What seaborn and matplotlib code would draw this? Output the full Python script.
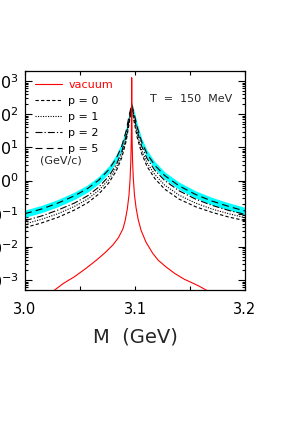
import numpy as np
import pandas as pd
import matplotlib
matplotlib.use("Agg")
import matplotlib.pyplot as plt
import seaborn as sns
from matplotlib.ticker import LogLocator, NullFormatter, FixedLocator

# dilepton mass grid for the in-medium curves (GeV)
mass = [3.000, 3.015, 3.030, 3.045, 3.057, 3.067, 3.076, 3.083, 3.088, 3.092, 3.0945, 3.097,
        3.0995, 3.102, 3.106, 3.111, 3.118, 3.127, 3.140, 3.155, 3.170, 3.185, 3.200]

# log10 of the spectral function
p0_log = [-1.42, -1.28, -1.11, -0.89, -0.67, -0.41, -0.08, 0.29, 0.69, 1.19, 1.68, 2.20,
          1.72, 1.30, 0.82, 0.42, 0.06, -0.26, -0.56, -0.79, -0.96, -1.10, -1.21]
p1_log = [-1.31, -1.17, -1.00, -0.78, -0.56, -0.30, 0.02, 0.39, 0.78, 1.27, 1.75, 2.23,
          1.80, 1.39, 0.92, 0.53, 0.18, -0.14, -0.44, -0.68, -0.86, -1.00, -1.12]
p2_log = [-1.21, -1.07, -0.89, -0.68, -0.46, -0.20, 0.12, 0.48, 0.87, 1.35, 1.81, 2.25,
          1.88, 1.50, 1.04, 0.66, 0.31, 0.00, -0.31, -0.56, -0.75, -0.90, -1.02]
p5_log = [-1.00, -0.86, -0.68, -0.46, -0.24, 0.01, 0.32, 0.67, 1.04, 1.50, 1.93, 2.30,
          1.97, 1.61, 1.17, 0.80, 0.46, 0.15, -0.16, -0.42, -0.62, -0.78, -0.92]
band_hi_log = [-0.89, -0.75, -0.57, -0.35, -0.13, 0.12, 0.43, 0.78, 1.15, 1.61, 2.02, 2.37,
               2.06, 1.72, 1.28, 0.91, 0.57, 0.26, -0.05, -0.31, -0.51, -0.67, -0.81]
band_lo_log = [-1.11, -0.97, -0.79, -0.57, -0.35, -0.10, 0.21, 0.56, 0.93, 1.39, 1.85, 2.23,
               1.89, 1.50, 1.06, 0.69, 0.35, 0.04, -0.27, -0.53, -0.73, -0.89, -1.03]

# vacuum curve, denser around the narrow peak
vac_mass = [3.020, 3.027, 3.035, 3.045, 3.055, 3.065, 3.073, 3.080, 3.085, 3.089, 3.091,
            3.093, 3.0945, 3.0955, 3.0962, 3.0966, 3.0968, 3.0969, 3.0970, 3.0971, 3.0972,
            3.0974, 3.0978, 3.0985, 3.0995, 3.101, 3.103, 3.1055, 3.110, 3.116, 3.121,
            3.128, 3.136, 3.145, 3.151, 3.158, 3.1645, 3.172]
vac_log = [-3.55, -3.30, -3.10, -2.90, -2.66, -2.40, -2.17, -1.94, -1.72, -1.46, -1.22,
           -0.86, -0.45, 0.02, 0.58, 1.18, 1.77, 2.31, 3.10, 2.31, 1.77,
           1.18, 0.58, 0.04, -0.43, -0.83, -1.19, -1.50, -1.86, -2.19, -2.40,
           -2.60, -2.80, -2.98, -3.07, -3.18, -3.30, -3.42]

x_ticks = [3.0, 3.1, 3.2]
x_tick_labels = ["3.0", "3.1", "3.2"]

df = pd.DataFrame({"M": mass,
                   "p = 0": np.power(10.0, p0_log),
                   "p = 1": np.power(10.0, p1_log),
                   "p = 2": np.power(10.0, p2_log),
                   "p = 5": np.power(10.0, p5_log),
                   "lo": np.power(10.0, band_lo_log),
                   "hi": np.power(10.0, band_hi_log)})
vac = pd.DataFrame({"M": vac_mass, "vacuum": np.power(10.0, vac_log)})

sns.set_style("ticks")
plt.rcParams["font.family"] = ["DejaVu Sans"]
plt.rcParams["lines.scale_dashes"] = False

fig = plt.figure(figsize=(2.82, 4.40), dpi=100)
ax = fig.add_axes([25 / 282, 150 / 440, 220 / 282, 219 / 440])
ax.set_yscale("log")

# cyan band around the p = 5 curve
ax.fill_between(df["M"], df["lo"], df["hi"], color="#00ffff", lw=0, zorder=1)

sns.lineplot(data=vac, x="M", y="vacuum", ax=ax, color="red", lw=0.8,
             errorbar=None, label="vacuum", zorder=3)
styles = {"p = 0": (0, (2.4, 1.6)),
          "p = 1": (0, (0.8, 1.0)),
          "p = 2": (0, (5.0, 1.5, 0.9, 1.5)),
          "p = 5": (0, (5.0, 3.0))}
for name, ls in styles.items():
    sns.lineplot(data=df, x="M", y=name, ax=ax, color="black", lw=0.8,
                 linestyle=ls, errorbar=None, label=name, zorder=2)

ax.set_xlim(3.0, 3.2)
ax.set_ylim(5e-4, 2e3)
ax.xaxis.set_major_locator(FixedLocator(x_ticks))
ax.set_xticklabels(x_tick_labels)
ax.xaxis.set_minor_locator(FixedLocator([3.05, 3.15]))
ax.yaxis.set_major_locator(LogLocator(base=10, numticks=20))
ax.yaxis.set_minor_locator(LogLocator(base=10, subs=np.arange(2, 10), numticks=20))
ax.yaxis.set_minor_formatter(NullFormatter())

ax.tick_params(which="both", direction="in", top=True, right=True, width=0.8, colors="black")
ax.tick_params(axis="x", which="both", length=3, labelsize=10.5, pad=8.5)
ax.tick_params(axis="y", which="major", length=5, labelsize=11.5, pad=4.5)
ax.tick_params(axis="y", which="minor", length=2.5)
for sp in ax.spines.values():
    sp.set_linewidth(0.9)
    sp.set_color("black")

ax.set_xlabel("M  (GeV)", fontsize=14, labelpad=8)
ax.set_ylabel("")

ax.legend(loc="upper left", bbox_to_anchor=(0.045, 0.96), frameon=False, fontsize=8,
          handlelength=2.4, handletextpad=0.6, labelspacing=0.54, borderpad=0,
          borderaxespad=0, labelcolor="linecolor")
ax.text(0.068, 0.59, "(GeV/c)", transform=ax.transAxes, fontsize=8, va="center")
ax.text(0.568, 0.872, "T  =  150  MeV", transform=ax.transAxes, fontsize=8, va="center")

fig.savefig("out.png", dpi=100)
